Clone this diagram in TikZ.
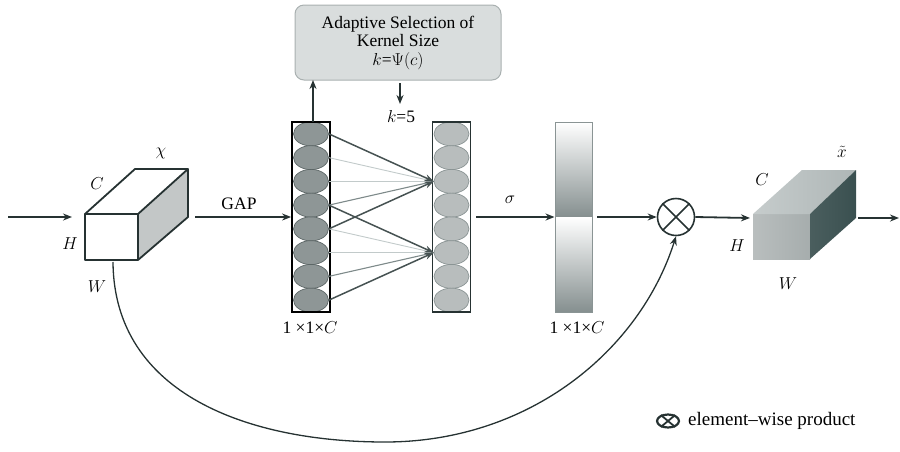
\documentclass[tikz,border=0pt]{standalone}
\usepackage{fontspec}
\setmainfont{Liberation Serif}
\usetikzlibrary{arrows.meta,shapes.geometric,calc}
\definecolor{edge}{HTML}{263232}
\definecolor{sidegray}{HTML}{C3C7C7}
\definecolor{ellL}{HTML}{8E9696}
\definecolor{ellLd}{HTML}{5C6666}
\definecolor{ellR}{HTML}{B8BDBD}
\definecolor{ellRd}{HTML}{8A9494}
\definecolor{boxg}{HTML}{D9DDDD}
\definecolor{boxd}{HTML}{A9B0B0}
\definecolor{linedark}{HTML}{465252}
\definecolor{linemid}{HTML}{7E8A8A}
\definecolor{linelight}{HTML}{C2CACA}
\definecolor{bargray}{HTML}{858F8F}
\definecolor{frontA}{HTML}{B9BEBE}
\definecolor{frontB}{HTML}{A6ADAD}
\definecolor{topA}{HTML}{C6CCCC}
\definecolor{topB}{HTML}{AEB6B6}
\definecolor{sideA}{HTML}{4A5E5E}
\definecolor{sideB}{HTML}{3A5050}
\tikzset{
  flow/.style={line width=1.8pt, edge, -{Stealth[length=9pt,width=7pt]}},
  cubeedge/.style={line width=1.8pt, edge, line join=round},
  ellL/.style={ellipse, fill=ellL, draw=ellLd, line width=0.7pt, minimum width=35pt, minimum height=24pt, inner sep=0pt},
  ellR/.style={ellipse, fill=ellR, draw=ellRd, line width=0.7pt, minimum width=35pt, minimum height=24pt, inner sep=0pt},
  colbox/.style={draw=black, line width=1.8pt, minimum width=38pt, minimum height=190pt, inner sep=0pt},
  dk/.style={linedark, line width=1.5pt, -{Stealth[length=9pt,width=7pt]}},
  md/.style={linemid, line width=1.1pt},
  lt/.style={linelight, line width=0.9pt},
  lbl/.style={inner sep=1pt},
}
\begin{document}
\begin{tikzpicture}[x=1pt,y=-1pt, font=\fontsize{17.5}{18.5}\selectfont]
\useasboundingbox (0,0) rectangle (900,451);

% ---------- left cube ----------
\fill[white] (85,214) rectangle (138,260);
\fill[sidegray] (138,214) -- (188,169) -- (188,217) -- (138,260) -- cycle;
\draw[cubeedge] (85,214) -- (138,214) -- (138,260) -- (85,260) -- cycle;
\draw[cubeedge] (85,214) -- (135,169) -- (188,169) -- (138,214);
\draw[cubeedge] (188,169) -- (188,217) -- (138,260);
\coordinate (inS) at (8,217);
\coordinate (inE) at (72,217);
\coordinate (cubeR) at (195,217);
\coordinate (cwb) at (113,262);
\node[lbl] (chi) at (161,153) {$\chi$};
\node[lbl] (cL) at (97,184) {$C$};
\node[lbl] (hL) at (70,244) {$H$};
\node[lbl] (wL) at (97,287) {$W$};
\draw[flow] (inS) -- (inE);

% ---------- left column ----------
\foreach \i in {0,...,7} {
  \node[ellL] (l\i) at (311,{133.875+23.75*\i}) {};
}
\node[colbox] (colL) at (311,217) {};
\draw[flow] (cubeR) -- (colL.west);
\node[lbl] (gap) at (239,204) {GAP};

% ---------- right column ----------
\foreach \i in {0,...,7} {
  \node[ellR] (r\i) at (451.5,{133.875+23.75*\i}) {};
}
\node[colbox, draw=edge, line width=1.6pt] (colR) at (451.5,217) {};

% connections
\draw[lt] (l1.east) -- (r2.west);
\draw[lt] (l2.east) -- (r2.west);
\draw[md] (l3.east) -- (r2.west);
\draw[lt] (l4.east) -- (r5.west);
\draw[lt] (l5.east) -- (r5.west);
\draw[md] (l6.east) -- (r5.west);
\draw[dk] (l0.east) -- (r2.west);
\draw[dk] (l4.east) -- (r2.west);
\draw[dk] (l3.east) -- (r5.west);
\draw[dk] (l7.east) -- (r5.west);

% ---------- adaptive box ----------
\node[rounded corners=9pt, fill=boxg, draw=boxd, line width=1pt, minimum width=206pt, minimum height=75pt, align=center, inner sep=2pt] (box) at (398,42.5)
  {Adaptive Selection of\\Kernel Size\\$k$=$\Psi(c)$};
\coordinate (upS) at (313,122);
\coordinate (upE) at (313,80);
\draw[flow] (upS) -- (upE);
\coordinate (kd) at (400,83);
\coordinate (ke) at (400,104);
\draw[flow] (kd) -- (ke);
\node[lbl] (k5) at (401,117) {$k$=5};
\node[lbl] (dimL) at (310,328) {1 ×1×$C$};

% ---------- sigma bar ----------
\shade[top color=white, bottom color=bargray] (555,122) rectangle (592,217);
\shade[top color=white, bottom color=bargray] (555,217) rectangle (592,312);
\node[draw=ellRd, line width=1pt, minimum width=37pt, minimum height=190pt, inner sep=0pt] (bar) at (573.5,217) {};
\coordinate (sigS) at (476,217);
\draw[flow] (sigS) -- (bar.west);
\node[lbl] (sig) at (510,200) {$\sigma$};
\node[lbl] (dimR) at (577,328) {1 ×1×$C$};

% ---------- product ----------
\node[circle, draw=edge, line width=1.6pt, minimum size=37pt, inner sep=0pt] (ot) at (676,217) {};
\draw[edge, line width=1.6pt] (ot.45) -- (ot.225) (ot.135) -- (ot.-45);
\coordinate (barE) at (597,217);
\draw[flow] (barE) -- (ot.west);
\coordinate (cube2L) at (750,218);
\draw[flow] (ot.east) -- (cube2L);

% ---------- right cube ----------
\shade[left color=frontA, right color=frontB] (753,214) rectangle (810,259);
\shade[left color=topA, right color=topB] (753,214) -- (802,170) -- (856,170) -- (810,214) -- cycle;
\shade[left color=sideA, right color=sideB] (810,214) -- (856,170) -- (856,218) -- (810,259) -- cycle;
\coordinate (outS) at (858,218);
\coordinate (outE) at (899,218);
\draw[flow] (outS) -- (outE);
\node[lbl] (xt) at (842,152) {$\tilde{x}$};
\node[lbl] (cR) at (762,180) {$C$};
\node[lbl] (hR) at (737,246) {$H$};
\node[lbl] (wR) at (788,284) {$W$};

% ---------- skip connection ----------
\coordinate (low) at (385,442);
\draw[flow, line width=1.3pt] (cwb) .. controls (114,395) and (250,442) .. (low) .. controls (530,442) and (640,350) .. (ot.south);

% ---------- legend ----------
\node[ellipse, draw=edge, line width=2.2pt, minimum width=22pt, minimum height=13pt, inner sep=0pt] (lg) at (668,421) {};
\draw[edge, line width=1.8pt] (lg.40) -- (lg.220) (lg.140) -- (lg.-40);
\node[anchor=west, inner sep=0pt, font=\fontsize{19}{22}\selectfont] (lgt) at (688,421) {element\textendash wise product};
\end{tikzpicture}
\end{document}
